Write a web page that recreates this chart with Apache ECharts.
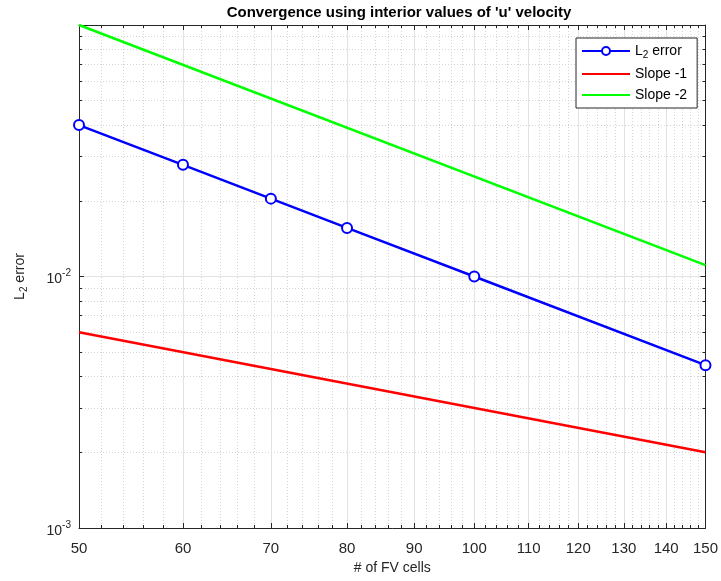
<!DOCTYPE html>
<html>
<head>
<meta charset="utf-8">
<script src="https://cdn.jsdelivr.net/npm/echarts@6/dist/echarts.min.js"></script>
<style>
  html, body { margin: 0; padding: 0; background: #fff; }
  #main { width: 721px; height: 581px; }
</style>
</head>
<body>
<div id="main"></div>
<script>
// 数据
const cells = [50, 60, 70, 80, 100, 150];
const l2Error = [0.04, 0.0278, 0.0204, 0.0156, 0.01, 0.00444];
const slopeX = [50, 150];
const slope1 = [0.006, 0.002];
const slope2 = [0.1, 0.0111];

// 刻度
const xMajor = [50, 60, 70, 80, 90, 100, 110, 120, 130, 140, 150];
const xMinor = [];
for (let v = 52; v < 150; v += 2) { if (v % 10 !== 0) xMinor.push(v); }
const yMajor = [0.001, 0.01, 0.1];
const yMinor = [];
[0.001, 0.01].forEach(d => { for (let k = 2; k <= 9; k++) yMinor.push(+(k * d).toPrecision(3)); });

const FONT = '"Liberation Sans", Arial, Helvetica, sans-serif';
const AX = '#262626';

const chart = echarts.init(document.getElementById('main'));

const pair = (a, b) => a.map((v, i) => [v, b[i]]);

const supRich = {
  b: { fontSize: 14, color: AX, fontFamily: FONT, padding: [6, 0, 0, 0] },
  p: { fontSize: 10, color: AX, fontFamily: FONT, padding: [0, 0, 6, 0] }
};
const subRich = {
  m: { fontSize: 14, color: '#000', fontFamily: FONT },
  s: { fontSize: 10, color: '#000', fontFamily: FONT, padding: [8, 0, 0, 0] }
};

function xAx(pos, ticks, major) {
  return {
    type: 'log', logBase: 10, min: 50, max: 150, position: pos, gridIndex: 0,
    axisLine: { show: major, onZero: false, lineStyle: { color: AX, width: 1 } },
    axisTick: { show: true, inside: true, length: major ? 5 : 3, customValues: ticks, lineStyle: { color: AX } },
    axisLabel: {
      show: major && pos === 'bottom', customValues: ticks, margin: 13,
      color: AX, fontSize: 15, fontFamily: FONT, formatter: v => String(Math.round(v))
    },
    splitLine: {
      show: pos === 'bottom',
      lineStyle: major ? { color: '#e2e2e2', width: 1 } : { color: '#d4d4d4', width: 1, type: [1, 2] }
    },
    minorTick: { show: false }, minorSplitLine: { show: false }
  };
}

function yAx(pos, ticks, major) {
  return {
    type: 'log', logBase: 10, min: 0.001, max: 0.1, position: pos, gridIndex: 0,
    axisLine: { show: major, onZero: false, lineStyle: { color: AX, width: 1 } },
    axisTick: { show: true, inside: true, length: major ? 5 : 3, customValues: ticks, lineStyle: { color: AX } },
    axisLabel: {
      show: major && pos === 'left', customValues: [0.001, 0.01], margin: 8,
      formatter: v => '{b|10}{p|' + Math.round(Math.log10(v)) + '}', rich: supRich
    },
    splitLine: {
      show: pos === 'left',
      lineStyle: major ? { color: '#e2e2e2', width: 1 } : { color: '#d4d4d4', width: 1, type: [1, 2] }
    },
    minorTick: { show: false }, minorSplitLine: { show: false }
  };
}

const xAxes = [xAx('bottom', xMajor, true), xAx('bottom', xMinor, false), xAx('top', xMajor, true), xAx('top', xMinor, false)];
xAxes[0].name = '# of FV cells';
xAxes[0].nameLocation = 'middle';
xAxes[0].nameGap = 32;
xAxes[0].nameTextStyle = { color: AX, fontSize: 14, fontFamily: FONT };

const yAxes = [yAx('left', yMajor, true), yAx('left', yMinor, false), yAx('right', yMajor, true), yAx('right', yMinor, false)];
yAxes[0].name = '{m|L}{s|2}{m| error}';
yAxes[0].nameLocation = 'middle';
yAxes[0].nameGap = 50;
yAxes[0].nameRotate = 90;
yAxes[0].nameTextStyle = {
  rich: {
    m: { fontSize: 14, color: AX, fontFamily: FONT },
    s: { fontSize: 10, color: AX, fontFamily: FONT, padding: [8, 0, 0, 0] }
  }
};

chart.setOption({
  animation: false,
  backgroundColor: '#fff',
  title: {
    text: "Convergence using interior values of 'u' velocity",
    left: 394, top: 0, textAlign: 'center',
    textStyle: { fontSize: 15, fontWeight: 'bold', color: '#000', fontFamily: FONT }
  },
  grid: { left: 79, right: 12, top: 25, bottom: 53, containLabel: false },
  legend: {
    orient: 'vertical', left: 576, top: 38,
    backgroundColor: '#fff', borderColor: AX, borderWidth: 1,
    padding: [6, 10, 6, 5], itemWidth: 48, itemHeight: 10, itemGap: 7,
    data: [
      { name: 'L2 error' },
      { name: 'Slope -1', itemStyle: { opacity: 0 } },
      { name: 'Slope -2', itemStyle: { opacity: 0 } }
    ],
    formatter: n => n === 'L2 error' ? '{m|L}{s|2}{m| error}' : '{m|' + n + '}',
    textStyle: { rich: subRich, fontFamily: FONT, fontSize: 14, color: '#000' }
  },
  xAxis: xAxes,
  yAxis: yAxes,
  series: [
    {
      name: 'L2 error', type: 'line', data: pair(cells, l2Error),
      symbol: 'emptyCircle', symbolSize: 10,
      lineStyle: { color: '#0000ff', width: 2.5 },
      itemStyle: { color: '#0000ff', borderColor: '#0000ff', borderWidth: 2.5 }
    },
    {
      name: 'Slope -1', type: 'line', data: pair(slopeX, slope1), showSymbol: false, symbol: 'circle',
      lineStyle: { color: '#ff0000', width: 2.5 }, itemStyle: { color: '#ff0000' }
    },
    {
      name: 'Slope -2', type: 'line', data: pair(slopeX, slope2), showSymbol: false, symbol: 'circle',
      lineStyle: { color: '#00ff00', width: 2.5 }, itemStyle: { color: '#00ff00' }
    }
  ]
});
</script>
</body>
</html>
